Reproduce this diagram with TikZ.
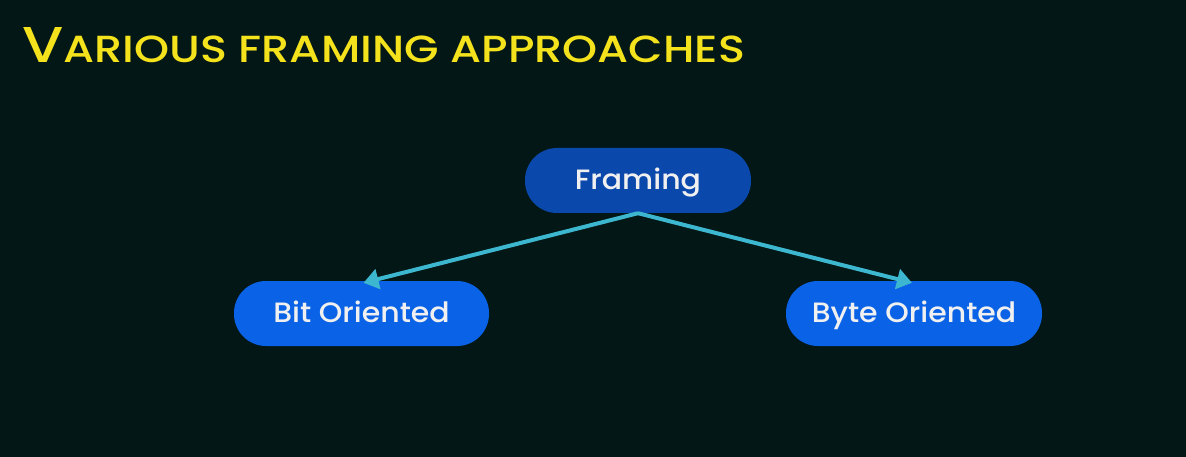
\documentclass[tikz,border=0pt]{standalone}
\usepackage{fontspec}
\usepackage{graphicx}
\setmainfont{Poppins}
\newfontfamily\nodefont{Poppins Medium}[FakeStretch=1.07]
\newfontfamily\titlefont{Poppins Medium}
\usetikzlibrary{arrows.meta}
\definecolor{bgdark}{HTML}{021716}
\definecolor{titleyellow}{HTML}{F4E21C}
\definecolor{rootblue}{HTML}{0B48AC}
\definecolor{leafblue}{HTML}{0A62E6}
\definecolor{linkcyan}{HTML}{3DB7CF}
\tikzset{
  pill/.style={rounded corners=32pt, minimum height=65pt, text=white!94!black,
    font=\nodefont\fontsize{28pt}{32pt}\selectfont, inner sep=0pt,
    text height=22pt, text depth=4pt},
  rootpill/.style={pill, fill=rootblue},
  leafpill/.style={pill, fill=leafblue},
  link/.style={draw=linkcyan, line width=4pt,
    -{Triangle[length=15pt,width=20pt]}}
}
\begin{document}
\begin{tikzpicture}[x=1pt,y=-1pt]
  \fill[bgdark] (0,0) rectangle (1186,457);
  \useasboundingbox (0,0) rectangle (1186,457);
  % heading in small capitals
  \node[anchor=base west, inner sep=0pt, text=titleyellow] (title) at (22,63)
    {\resizebox{723pt}{35pt}{\titlefont\fontsize{36pt}{40pt}\selectfont V\fontsize{27pt}{30pt}\selectfont ARIOUS FRAMING APPROACHES}};
  % tree
  \node[rootpill, minimum width=226pt] (framing) at (638,180.5) {Framing};
  \node[leafpill, minimum width=255pt] (bit) at (361.5,313.5) {Bit Oriented};
  \node[leafpill, minimum width=256pt] (byte) at (914,313.5) {Byte Oriented};
  \coordinate (fork) at (framing.south);
  \draw[link] (fork) -- ([xshift=2pt,yshift=-2pt]bit.north);
  \draw[link] (fork) -- ([xshift=-2pt,yshift=-2pt]byte.north);
\end{tikzpicture}
\end{document}
